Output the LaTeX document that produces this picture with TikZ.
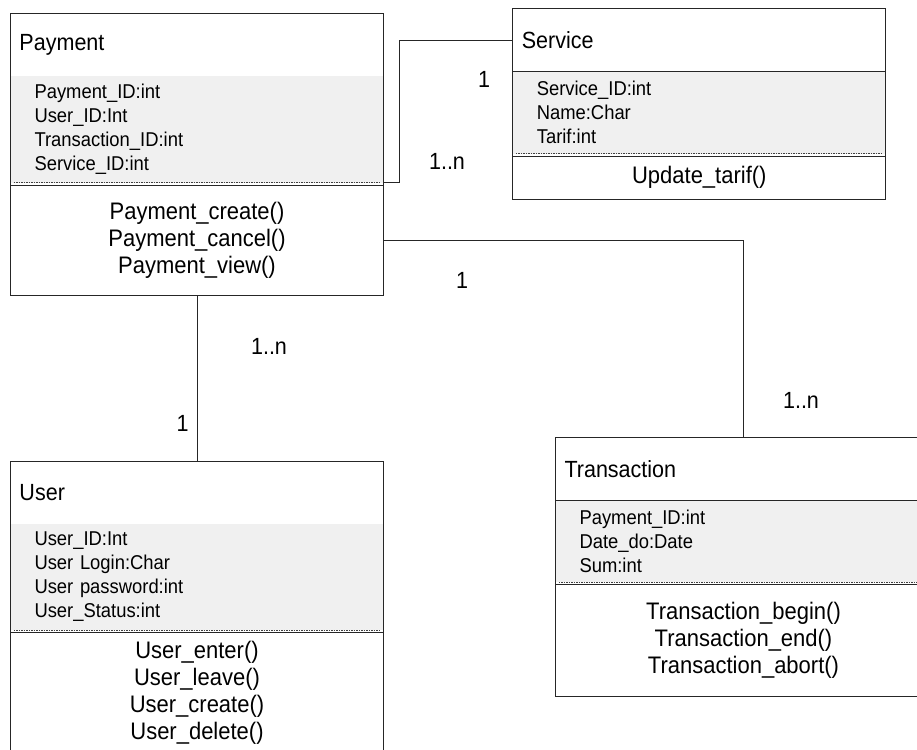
\documentclass[tikz,border=0pt]{standalone}
\usepackage{fontspec}
\setmainfont[FakeStretch=0.92]{Liberation Sans}
\usetikzlibrary{positioning}
\definecolor{attrgray}{RGB}{240,240,240}
\newcommand{\clsfont}{\fontsize{23.4}{26}\selectfont}
\newcommand{\attrfont}{\fontsize{20}{24}\selectfont}
\newcommand{\opsfont}{\fontsize{23.9}{27}\selectfont}
\tikzset{
  clsname/.style={draw,anchor=north west,minimum height=63pt,text width=355pt,inner xsep=9pt,align=left,font=\clsfont},
  attrs/.style={fill=attrgray,minimum height=106pt,text width=325pt,inner xsep=24pt,align=left,font=\attrfont},
  ops/.style={draw,minimum height=110pt,text width=355pt,inner xsep=9pt,align=center,font=\opsfont},
  sepline/.style={black!75,line width=0.8pt,dash pattern=on 1.5pt off 1pt,shorten <=3pt,shorten >=3pt},
  mult/.style={font=\clsfont}
}
\begin{document}
\begin{tikzpicture}[x=1pt,y=-1pt,line width=1pt,draw=black!85,every node/.style={outer sep=0pt,inner ysep=0pt}]
\clip (0,0) rectangle (917,749);
% Payment
\node[clsname] (pay) at (10.5,13.5) {Payment};
\node[attrs,below=0pt of pay] (payAttr) {Payment\_ID:int\\User\_ID:Int\\Transaction\_ID:int\\Service\_ID:int};
\node[ops,below=2.5pt of payAttr] (payOps) {Payment\_create()\\Payment\_cancel()\\Payment\_view()};
\draw (pay.north west) rectangle (payOps.south east);
\draw[sepline] (payAttr.south west) -- (payAttr.south east);
% Service
\node[clsname,minimum height=63.5pt] (srv) at (512.8,8.5) {Service};
\node[attrs,minimum height=81.5pt,below=0pt of srv] (srvAttr) {Service\_ID:int\\Name:Char\\Tarif:int};
\node[ops,minimum height=43pt,below=2.5pt of srvAttr] (srvOps) {Update\_tarif()};
\draw (srv.north west) rectangle (srvOps.south east);
\draw[sepline] (srvAttr.south west) -- (srvAttr.south east);
% User
\node[clsname] (usr) at (10.5,461) {User};
\node[attrs,below=0pt of usr] (usrAttr) {User\_ID:Int\\User Login:Char\\User password:int\\User\_Status:int};
\node[ops,minimum height=120pt,below=2.5pt of usrAttr] (usrOps) {User\_enter()\\User\_leave()\\User\_create()\\User\_delete()};
\draw (usr.north west) rectangle (usrOps.south east);
\draw[sepline] (usrAttr.south west) -- (usrAttr.south east);
% Transaction
\node[clsname,text width=358pt] (trn) at (555.5,437.5) {Transaction};
\node[attrs,text width=328pt,minimum height=81.5pt,below=0pt of trn] (trnAttr) {Payment\_ID:int\\Date\_do:Date\\Sum:int};
\node[ops,text width=358pt,minimum height=112pt,below=2.5pt of trnAttr] (trnOps) {Transaction\_begin()\\Transaction\_end()\\Transaction\_abort()};
\draw (trn.north west) rectangle (trnOps.south east);
\draw[sepline] (trnAttr.south west) -- (trnAttr.south east);
% links
\draw (payAttr.south east) -- ++(15.5,0) |- (srv.west);
\draw (payOps.east) -| (trn.north);
\draw (payOps.south) -- (usr.north);
\node[mult] (m1) at (484,79) {1}; \node[mult] (m2) at (447,161.5) {1..n};
\node[mult] (m3) at (462,280) {1}; \node[mult] (m4) at (801,400) {1..n};
\node[mult] (m5) at (269,346.5) {1..n}; \node[mult] (m6) at (182.5,423) {1};
\end{tikzpicture}
\end{document}
